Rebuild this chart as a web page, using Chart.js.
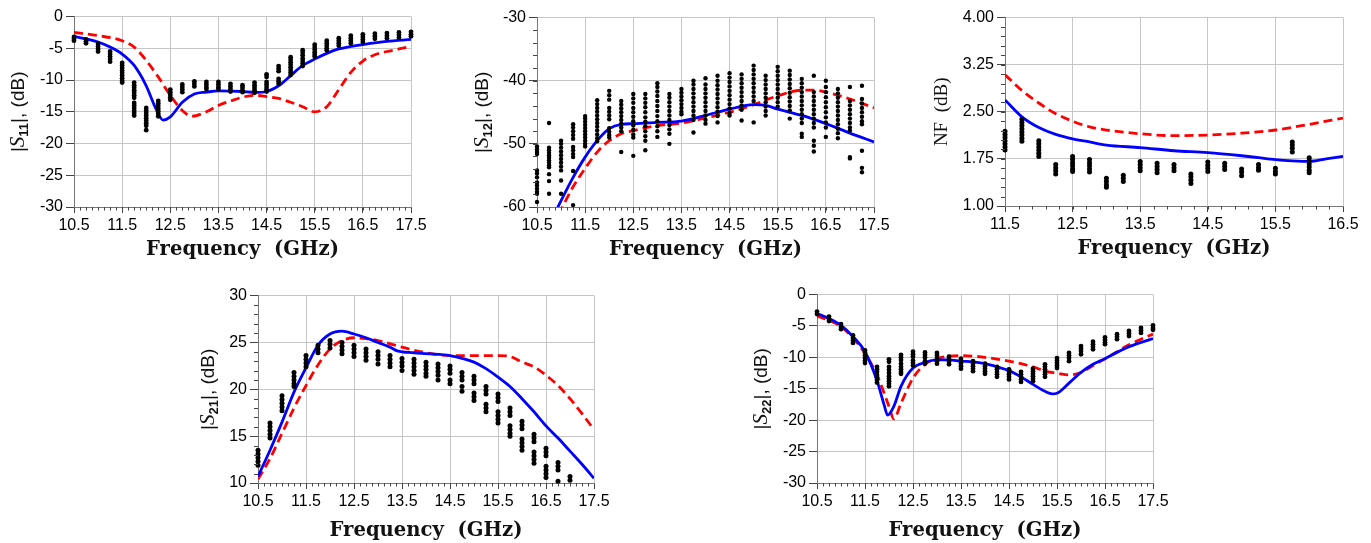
<!DOCTYPE html>
<html>
<head>
<meta charset="utf-8">
<script src="https://cdn.jsdelivr.net/npm/chart.js@4.4.1/dist/chart.umd.min.js"></script>
<style>
  html, body { margin: 0; padding: 0; background: #fff; overflow: hidden; }
  body { width: 1371px; height: 543px; position: relative; }
  canvas { position: absolute; }
</style>
</head>
<body>
<canvas id="s11"></canvas>
<canvas id="s12"></canvas>
<canvas id="nf"></canvas>
<canvas id="s21"></canvas>
<canvas id="s22"></canvas>
<script>
// measured frequency columns (GHz)
const measFreq = [10.5, 10.75, 11, 11.25, 11.5, 11.75, 12, 12.25, 12.5, 12.75, 13, 13.25, 13.5, 13.75,
  14, 14.25, 14.5, 14.75, 15, 15.25, 15.5, 15.75, 16, 16.25, 16.5, 16.75, 17, 17.25, 17.5];
const nfFreq = [11.5, 11.75, 12, 12.25, 12.5, 12.75, 13, 13.25, 13.5, 13.75, 14, 14.25, 14.5, 14.75,
  15, 15.25, 15.5, 15.75, 16];

// tick labels
const freqTicks = [10.5, 11.5, 12.5, 13.5, 14.5, 15.5, 16.5, 17.5];
const nfFreqTicks = [11.5, 12.5, 13.5, 14.5, 15.5, 16.5];
const dbTicks = [-30, -25, -20, -15, -10, -5, 0];
const s12Ticks = [-60, -50, -40, -30];
const nfTicks = [1.00, 1.75, 2.50, 3.25, 4.00];
const s21Ticks = [10, 15, 20, 25, 30];

// |S11|
const s11Meas = [
  [-3.2, -3.5, -3.8],
  [-3.6, -3.9, -4.2],
  [-4.3, -4.7, -5.1, -5.5],
  [-5.5, -5.9, -6.3, -6.7, -7.1],
  [-7.3, -7.7, -8.1, -8.5, -8.9, -9.3, -9.7, -10.1, -10.4],
  [-10.4, -10.8, -11.2, -11.6, -12.0, -12.4, -12.8, -13.6, -14.0, -14.4, -14.8, -15.2, -15.6],
  [-14.4, -14.8, -15.2, -15.6, -16.0, -16.4, -16.8, -17.2, -17.9],
  [-13.3, -13.7, -14.1, -14.5, -14.9, -15.3, -15.7],
  [-11.5, -11.9, -12.3, -12.7, -13.1],
  [-10.7, -11.1, -11.5, -11.9],
  [-10.2, -10.6, -11.0],
  [-10.3, -10.7, -11.1, -11.4],
  [-10.3, -10.7, -11.1, -11.4],
  [-10.6, -11.0, -11.4, -11.8],
  [-10.8, -11.2, -11.6, -11.9],
  [-10.4, -10.8, -11.2, -11.6, -12.0],
  [-9.1, -9.5, -10.3, -10.7, -11.1, -11.5, -11.8],
  [-7.8, -8.2, -8.6, -9.8, -10.2, -10.6],
  [-6.4, -6.8, -7.2, -7.6, -8.0, -8.4, -8.8, -9.2],
  [-5.3, -5.7, -6.1, -6.6, -7.0, -7.4, -7.8],
  [-4.4, -4.8, -5.2, -5.6, -6.0, -6.3],
  [-3.8, -4.2, -4.6, -5.0, -5.3],
  [-3.4, -3.8, -4.2, -4.6],
  [-3.0, -3.4, -3.8, -4.2],
  [-2.8, -3.2, -3.6, -4.0],
  [-2.7, -3.1, -3.5],
  [-2.6, -3.0, -3.4],
  [-2.5, -2.9, -3.3],
  [-2.4, -2.8, -3.1]
];
const s11BlueF = [10.5, 11, 11.25, 11.5, 11.75, 12, 12.2, 12.35, 12.5, 12.75, 13, 13.25, 13.5, 14, 14.25, 14.5,
  14.75, 15, 15.25, 15.5, 15.75, 16, 16.25, 16.5, 17, 17.5];
const s11Blue = [-3.1, -4.0, -4.8, -5.9, -7.7, -10.9, -14.5, -16.3, -15.8, -13.5, -12.2, -11.9, -11.7, -11.8, -11.95, -11.8,
  -10.9, -9.3, -7.7, -6.7, -5.8, -5.1, -4.7, -4.4, -3.9, -3.6];
const s11RedF = [10.5, 11, 11.5, 11.75, 12, 12.25, 12.5, 12.75, 12.95, 13.25, 13.5, 13.75, 14, 14.25, 14.5, 14.75,
  15, 15.25, 15.5, 15.75, 16, 16.25, 16.5, 16.75, 17, 17.25, 17.5];
const s11Red = [-2.5, -3.0, -3.8, -4.8, -6.9, -9.5, -12.4, -14.8, -15.7, -15.0, -14.0, -13.3, -12.7, -12.4, -12.6, -12.9,
  -13.5, -14.2, -15.0, -14.2, -11.5, -8.8, -7.0, -6.0, -5.5, -5.1, -4.7];

// |S12|
const s12Meas = [
  [-50.4, -50.9, -51.3, -51.6, -54.2, -54.7, -55.3, -56.1, -56.6, -57.1, -57.6, -57.9, -59.2],
  [-46.7, -50.6, -51.0, -51.4, -51.8, -52.2, -52.6, -53.0, -53.4, -53.7, -54.8, -55.9, -57.9],
  [-49.5, -50.0, -50.6, -51.2, -51.8, -52.4, -53.0, -53.6, -54.2, -55.8, -57.9],
  [-46.9, -47.4, -48.0, -48.6, -49.2, -50.5, -51.0, -51.6, -52.1, -54.3, -59.7],
  [-45.6, -46.0, -46.5, -47.0, -47.5, -48.0, -48.5, -49.0, -49.5, -50.0, -50.4],
  [-43.1, -43.7, -44.3, -44.9, -45.5, -46.1, -46.7, -47.3, -47.9, -48.5, -49.1, -49.6],
  [-41.6, -42.3, -43.0, -44.3, -44.9, -45.5, -46.1, -47.5, -48.1, -48.6, -49.0],
  [-43.2, -43.8, -44.4, -45.0, -45.6, -46.2, -46.8, -47.4, -48.0, -51.3],
  [-42.1, -42.8, -43.5, -44.3, -45.0, -45.7, -46.4, -47.1, -47.8, -48.5, -49.0, -51.9],
  [-42.1, -42.8, -43.5, -44.2, -45.0, -45.8, -46.5, -47.2, -48.0, -48.8, -49.5, -51.0],
  [-40.4, -41.0, -41.7, -42.4, -43.2, -44.0, -44.8, -45.6, -46.4, -47.2, -48.0, -48.9],
  [-42.1, -42.7, -43.4, -44.1, -44.8, -45.5, -46.2, -47.0, -47.7, -48.4, -50.0],
  [-41.3, -41.9, -42.5, -43.1, -43.7, -44.3, -44.9, -45.3],
  [-40.0, -40.6, -41.3, -42.0, -42.7, -43.4, -44.1, -44.8, -45.5, -46.2, -48.2],
  [-39.6, -40.6, -41.3, -42.0, -42.7, -43.4, -44.1, -44.8, -45.5, -46.2, -46.8],
  [-39.2, -40.0, -40.7, -41.4, -42.1, -42.8, -43.5, -44.2, -44.9, -45.6, -46.6],
  [-38.8, -39.5, -40.2, -40.9, -41.6, -42.3, -43.0, -43.7, -44.4, -45.1, -45.5],
  [-39.0, -39.7, -40.4, -41.1, -41.8, -42.5, -43.2, -43.9, -44.6, -46.3],
  [-37.6, -38.3, -39.0, -39.7, -40.4, -41.1, -41.8, -42.5, -43.2, -46.6],
  [-39.2, -39.9, -40.6, -41.3, -42.0, -42.7, -43.4, -44.1, -44.8, -45.5],
  [-37.8, -38.5, -39.2, -39.9, -40.6, -41.3, -42.0, -42.7, -43.4, -44.1],
  [-38.4, -39.1, -39.8, -40.5, -41.2, -41.9, -42.6, -43.3, -44.0, -44.7, -46.0],
  [-39.7, -40.4, -41.1, -41.8, -42.5, -43.2, -43.9, -44.6, -45.3, -46.0, -46.7, -48.4, -48.9],
  [-39.2, -41.8, -42.5, -43.2, -43.9, -44.6, -45.3, -46.0, -46.7, -47.4, -49.5, -50.3, -51.2],
  [-40.0, -41.0, -41.8, -42.6, -43.4, -44.2, -45.0, -45.8, -46.6, -47.4, -48.9],
  [-41.3, -42.0, -42.7, -43.4, -44.1, -44.8, -45.5, -46.2, -46.9, -47.6, -48.3, -49.1],
  [-41.0, -43.2, -43.9, -44.6, -45.3, -46.0, -46.7, -47.4, -47.9, -52.1, -52.3],
  [-40.8, -42.9, -43.6, -44.3, -45.0, -45.7, -46.4, -46.9, -51.1, -53.8, -54.5]
];
const s12BlueF = [10.85, 11, 11.25, 11.5, 11.75, 12, 12.25, 12.5, 13, 13.5, 14, 14.5, 15, 15.25, 15.5, 16, 16.5, 17, 17.5];
const s12Blue = [-61.3, -59.0, -55.3, -52.1, -49.5, -47.6, -46.9, -46.8, -46.6, -46.4, -45.5, -44.5, -43.8, -43.9, -44.5,
  -45.5, -46.8, -48.3, -49.7];
const s12RedF = [10.95, 11.25, 11.5, 11.75, 12, 12.25, 12.5, 13, 13.5, 14, 14.5, 15, 15.5, 16, 16.25, 16.5, 17, 17.5];
const s12Red = [-61.2, -56.8, -53.9, -51.3, -49.5, -48.4, -47.9, -47.1, -46.7, -45.9, -45.0, -43.8, -42.4, -41.5, -41.5,
  -41.8, -42.9, -44.3];

// NF
const nfMeas = [
  [2.19, 2.14, 2.09, 2.04, 1.99, 1.94, 1.89],
  [2.38, 2.33, 2.28, 2.23, 2.18, 2.13, 2.08, 2.03],
  [2.04, 1.99, 1.94, 1.89, 1.84, 1.79],
  [1.66, 1.61, 1.56, 1.51],
  [1.79, 1.74, 1.69, 1.64, 1.59, 1.55],
  [1.74, 1.69, 1.64, 1.59, 1.54],
  [1.44, 1.39, 1.34, 1.30],
  [1.49, 1.44, 1.39],
  [1.71, 1.66, 1.61, 1.56],
  [1.68, 1.63, 1.58, 1.53],
  [1.66, 1.61, 1.56],
  [1.51, 1.46, 1.41, 1.36],
  [1.70, 1.65, 1.60, 1.55],
  [1.68, 1.63, 1.58],
  [1.59, 1.54, 1.48],
  [1.66, 1.61, 1.57],
  [1.60, 1.55, 1.51],
  [2.02, 1.97, 1.92, 1.86],
  [1.77, 1.72, 1.67, 1.62, 1.57, 1.53]
];
const nfBlueF = [11.5, 11.75, 12, 12.25, 12.5, 12.75, 13, 13.5, 14, 14.5, 15, 15.25, 15.5, 15.75, 16, 16.25, 16.5];
const nfBlue = [2.69, 2.42, 2.25, 2.14, 2.07, 2.02, 1.97, 1.93, 1.88, 1.85, 1.80, 1.77, 1.74, 1.72, 1.71, 1.75, 1.79];
const nfRedF = [11.5, 11.75, 12, 12.25, 12.5, 12.75, 13, 13.5, 14, 14.5, 15, 15.5, 16, 16.5];
const nfRed = [3.09, 2.84, 2.64, 2.47, 2.35, 2.26, 2.21, 2.15, 2.12, 2.13, 2.16, 2.21, 2.30, 2.40];

// |S21|
const s21Meas = [
  [13.5, 13.1, 12.7, 12.3, 11.9],
  [16.4, 16.0, 15.6, 15.2, 14.8],
  [19.3, 18.9, 18.5, 18.1, 17.7],
  [21.8, 21.4, 21.0, 20.6, 20.3],
  [23.6, 23.2, 22.8, 22.4],
  [24.7, 24.3, 23.9],
  [25.2, 24.8, 24.4],
  [25.0, 24.6, 24.2, 23.8],
  [24.7, 24.3, 23.9, 23.5],
  [24.3, 23.9, 23.5, 23.1],
  [24.0, 23.6, 23.2, 22.7],
  [23.6, 23.2, 22.8, 22.4],
  [23.3, 22.9, 22.5, 22.0],
  [23.2, 22.8, 22.4, 22.0, 21.6],
  [22.9, 22.5, 22.1, 21.7, 21.4],
  [22.7, 22.3, 21.9, 21.5, 21.0],
  [22.5, 22.1, 21.7, 21.0, 20.6],
  [21.8, 21.4, 21.0, 20.3, 19.8],
  [21.4, 21.0, 20.6, 19.6, 19.2, 18.8],
  [20.3, 19.9, 19.5, 18.4, 18.0, 17.6],
  [19.5, 19.1, 18.7, 17.6, 17.2, 16.8, 16.4],
  [18.0, 17.6, 17.2, 16.1, 15.7, 15.3, 15.0],
  [16.6, 16.2, 15.8, 14.7, 14.3, 13.9, 13.5],
  [15.2, 14.8, 14.4, 13.3, 12.9, 12.5, 12.1],
  [13.7, 13.3, 12.9, 11.8, 11.4, 11.0, 10.6],
  [12.2, 11.8, 11.4, 10.2],
  [10.7, 10.3]
];
const s21BlueF = [10.5, 10.75, 11, 11.25, 11.5, 11.75, 12, 12.25, 12.5, 12.75, 13, 13.25, 13.4, 13.75, 14, 14.5, 14.75,
  15, 15.25, 15.5, 15.75, 16, 16.25, 16.5, 16.75, 17, 17.25, 17.5];
const s21Blue = [10.7, 13.5, 16.5, 19.7, 22.3, 24.7, 25.9, 26.2, 25.9, 25.5, 25.0, 24.5, 24.1, 23.9, 23.8, 23.6, 23.3,
  22.9, 22.2, 21.3, 20.3, 19.0, 17.6, 16.1, 14.8, 13.4, 12.0, 10.5];
const s21RedF = [10.5, 10.75, 11, 11.25, 11.5, 11.75, 12, 12.25, 12.5, 12.75, 13, 13.5, 14, 14.5, 15, 15.5, 15.75, 16,
  16.25, 16.5, 16.75, 17, 17.25, 17.5];
const s21Red = [10.4, 12.6, 15.3, 18.0, 20.4, 22.6, 24.3, 25.2, 25.5, 25.4, 25.2, 24.5, 23.9, 23.6, 23.6, 23.6, 23.5, 22.9,
  22.4, 21.5, 20.4, 19.0, 17.4, 15.7];

// |S22|
const s22Meas = [
  [-2.7, -3.1],
  [-3.5, -3.9, -4.2],
  [-4.7, -5.1, -5.5],
  [-6.5, -6.9, -7.3, -7.7],
  [-8.9, -9.3, -9.7, -10.1, -10.5, -10.9],
  [-11.5, -11.9, -12.3, -12.8, -13.2, -13.6, -14.0],
  [-10.3, -10.7, -11.5, -12.0, -12.5, -13.0, -13.4, -13.8, -14.2, -14.6],
  [-9.6, -10.0, -10.4, -11.0, -11.5, -11.9, -12.3, -12.6],
  [-9.1, -9.5, -9.9, -10.5, -10.9, -11.3],
  [-9.2, -9.6, -10.0, -10.6, -11.0],
  [-9.3, -9.7, -10.1, -10.6, -11.0],
  [-9.9, -10.3, -10.7, -11.1],
  [-10.2, -10.6, -11.0, -11.4, -11.8],
  [-10.6, -11.0, -11.4, -11.8, -12.2],
  [-11.0, -11.4, -11.8, -12.2, -12.6],
  [-11.5, -11.9, -12.3, -12.7, -13.1],
  [-11.9, -12.3, -12.7, -13.1, -13.5],
  [-12.3, -12.7, -13.1, -13.5, -13.9],
  [-11.8, -12.2, -12.6, -13.0, -13.4, -13.8],
  [-11.1, -11.5, -11.9, -12.3, -12.7, -13.1],
  [-10.1, -10.5, -10.9, -11.3, -11.7],
  [-9.3, -9.7, -10.1, -10.6],
  [-8.2, -8.6, -9.0, -9.5],
  [-7.5, -7.9, -8.3, -8.7],
  [-6.8, -7.2, -7.6, -7.9],
  [-6.3, -6.7, -7.1],
  [-5.8, -6.2, -6.6],
  [-5.3, -5.7, -6.1],
  [-4.9, -5.3, -5.6]
];
const s22BlueF = [10.5, 10.75, 11, 11.25, 11.5, 11.75, 11.9, 11.97, 12.1, 12.25, 12.5, 12.75, 13, 13.25, 13.5, 13.75, 14,
  14.25, 14.5, 14.75, 15, 15.25, 15.4, 15.5, 15.75, 16, 16.25, 16.5, 16.75, 17, 17.25, 17.5];
const s22Blue = [-3.0, -3.8, -4.9, -6.7, -9.1, -13.7, -17.6, -19.2, -17.8, -14.6, -11.7, -10.8, -10.4, -10.4, -10.6, -10.7,
  -11.0, -11.5, -12.1, -13.1, -14.3, -15.4, -15.8, -15.7, -14.1, -12.4, -11.1, -10.2, -9.2, -8.3, -7.6, -7.0];
const s22RedF = [10.5, 10.75, 11, 11.25, 11.5, 11.75, 12, 12.1, 12.25, 12.5, 12.75, 13, 13.25, 13.5, 14, 14.5, 14.75, 15,
  15.25, 15.5, 15.75, 16, 16.25, 16.5, 16.75, 17, 17.25, 17.5];
const s22Red = [-3.4, -4.1, -5.1, -6.9, -9.4, -12.8, -17.8, -19.8, -17.3, -13.3, -11.1, -10.2, -9.8, -9.7, -10.0, -10.6,
  -11.0, -11.5, -12.2, -12.5, -12.8, -12.4, -11.3, -10.2, -9.1, -8.0, -7.1, -6.3];

// helpers
function measPoints(freqs, cols) {
  const pts = [];
  cols.forEach((col, i) => col.forEach(v => pts.push({ x: freqs[i], y: v })));
  return pts;
}
function linePoints(xs, ys) {
  return xs.map((x, i) => ({ x: x, y: ys[i] }));
}

const tickFont = { family: '"Liberation Sans", Arial, sans-serif', size: 16 };

// minor ticks + axis titles
const axisDeco = {
  id: 'axisDeco',
  afterDraw(chart, args, o) {
    const { ctx, chartArea: a, scales: { x, y } } = chart;
    ctx.save();
    ctx.strokeStyle = '#444';
    ctx.lineWidth = 1;
    ctx.beginPath();
    if (o.xMinor) {
      const n = Math.round((x.max - x.min) / o.xMinor);
      for (let k = 1; k < n; k++) {
        const px = Math.round(x.getPixelForValue(x.min + k * o.xMinor)) + 0.5;
        ctx.moveTo(px, a.bottom);
        ctx.lineTo(px, a.bottom + 3.5);
      }
    }
    if (o.yMinor) {
      const n = Math.round((y.max - y.min) / o.yMinor);
      for (let k = 1; k < n; k++) {
        const py = Math.round(y.getPixelForValue(y.min + k * o.yMinor)) + 0.5;
        ctx.moveTo(a.left, py);
        ctx.lineTo(a.left - 4, py);
      }
    }
    ctx.stroke();

    // x title
    ctx.fillStyle = '#111';
    ctx.font = 'bold 21px "DejaVu Serif", serif';
    const t = 'Frequency  (GHz)';
    const w = ctx.measureText(t).width;
    ctx.save();
    ctx.translate((a.left + a.right) / 2, a.bottom + o.xTitleDy);
    ctx.scale(193 / w, 1);
    ctx.textAlign = 'center';
    ctx.textBaseline = 'alphabetic';
    ctx.fillText(t, 0, 0);
    ctx.restore();

    // y title (rotated, built from parts)
    ctx.translate(a.left - o.yTitleDx, (a.top + a.bottom) / 2);
    ctx.rotate(-Math.PI / 2);
    ctx.textAlign = 'left';
    ctx.textBaseline = 'alphabetic';
    let total = 0;
    o.yTitle.forEach(p => { ctx.font = p.f; total += ctx.measureText(p.t).width; });
    let cx = -total / 2;
    o.yTitle.forEach(p => {
      ctx.font = p.f;
      ctx.fillText(p.t, cx, 7 + (p.dy || 0));
      cx += ctx.measureText(p.t).width;
    });
    ctx.restore();
  }
};

function sTitle(sub) {
  return [
    { t: '|', f: '19px "Liberation Sans"' },
    { t: 'S', f: 'italic 21px "Liberation Serif"' },
    { t: sub, f: 'bold 13px "Liberation Sans"', dy: 4 },
    { t: '|, (dB)', f: '19px "Liberation Sans"' }
  ];
}

function makeChart(id, box, spec) {
  const cv = document.getElementById(id);
  const padTop = 12, padRight = 26, yw = 80, xh = 66;
  cv.width = box.r - box.l + yw + padRight;
  cv.height = box.b - box.t + padTop + xh;
  cv.style.left = (box.l - yw) + 'px';
  cv.style.top = (box.t - padTop) + 'px';

  return new Chart(cv, {
    type: 'scatter',
    data: {
      datasets: [{
        data: measPoints(spec.measF, spec.meas),
        pointRadius: spec.dotR || 2.4,
        pointBackgroundColor: '#000',
        pointBorderWidth: 0,
        clip: 5,
        order: 0
      }, {
        data: linePoints(spec.blueF, spec.blue),
        showLine: true,
        borderColor: '#0000ff',
        borderWidth: 2.8,
        pointRadius: 0,
        cubicInterpolationMode: 'monotone',
        order: 1
      }, {
        data: linePoints(spec.redF, spec.red),
        showLine: true,
        borderColor: '#ff0000',
        borderWidth: 2.8,
        borderDash: [9, 5],
        pointRadius: 0,
        cubicInterpolationMode: 'monotone',
        order: 2
      }]
    },
    options: {
      responsive: false,
      animation: false,
      devicePixelRatio: 1,
      layout: { padding: { top: padTop, right: padRight, left: 0, bottom: 0 } },
      plugins: {
        legend: { display: false },
        tooltip: { enabled: false },
        axisDeco: {
          xMinor: spec.xMinor, yMinor: spec.yMinor,
          xTitleDy: spec.xTitleDy, yTitleDx: spec.yTitleDx, yTitle: spec.yTitle
        }
      },
      scales: {
        x: {
          type: 'linear',
          min: spec.xTicks[0],
          max: spec.xTicks[spec.xTicks.length - 1],
          afterBuildTicks: s => { s.ticks = spec.xTicks.map(v => ({ value: v })); },
          afterFit: s => { s.height = xh; },
          ticks: { autoSkip: false, maxRotation: 0, font: tickFont, color: '#000', padding: 3,
            callback: v => v.toFixed(1) },
          grid: { color: '#c6c6c6', tickColor: '#444', tickLength: 6 },
          border: { color: '#777' }
        },
        y: {
          type: 'linear',
          min: spec.yTicks[0],
          max: spec.yTicks[spec.yTicks.length - 1],
          afterBuildTicks: s => { s.ticks = spec.yTicks.map(v => ({ value: v })); },
          afterFit: s => { s.width = yw; },
          ticks: { autoSkip: false, font: tickFont, color: '#000', padding: 3,
            callback: spec.yFmt || (v => String(v)) },
          grid: { color: '#c6c6c6', tickColor: '#444', tickLength: 8 },
          border: { color: '#777' }
        }
      }
    },
    plugins: [axisDeco]
  });
}

makeChart('s11', { l: 74, r: 411, t: 16, b: 207 }, {
  measF: measFreq, meas: s11Meas, blueF: s11BlueF, blue: s11Blue, redF: s11RedF, red: s11Red,
  xTicks: freqTicks, yTicks: dbTicks, xMinor: 0.125, yMinor: 0,
  xTitleDy: 48, yTitleDx: 57, yTitle: sTitle('11')
});
makeChart('s12', { l: 537, r: 874, t: 17, b: 207 }, {
  measF: measFreq, meas: s12Meas, blueF: s12BlueF, blue: s12Blue, redF: s12RedF, red: s12Red,
  xTicks: freqTicks, yTicks: s12Ticks, xMinor: 0.125, yMinor: 2, dotR: 2.2,
  xTitleDy: 48, yTitleDx: 56, yTitle: sTitle('12')
});
makeChart('nf', { l: 1005, r: 1343, t: 17, b: 206 }, {
  measF: nfFreq, meas: nfMeas, blueF: nfBlueF, blue: nfBlue, redF: nfRedF, red: nfRed,
  xTicks: nfFreqTicks, yTicks: nfTicks, xMinor: 0.2, yMinor: 0.15, dotR: 2.5,
  yFmt: v => v.toFixed(2),
  xTitleDy: 48, yTitleDx: 65, yTitle: [{ t: 'NF  (dB)', f: '19px "Liberation Serif"' }]
});
makeChart('s21', { l: 258, r: 594, t: 295, b: 483 }, {
  measF: measFreq, meas: s21Meas, blueF: s21BlueF, blue: s21Blue, redF: s21RedF, red: s21Red,
  xTicks: freqTicks, yTicks: s21Ticks, xMinor: 0.125, yMinor: 1, dotR: 2.5,
  xTitleDy: 53, yTitleDx: 51, yTitle: sTitle('21')
});
makeChart('s22', { l: 817, r: 1153, t: 294, b: 483 }, {
  measF: measFreq, meas: s22Meas, blueF: s22BlueF, blue: s22Blue, redF: s22RedF, red: s22Red,
  xTicks: freqTicks, yTicks: dbTicks, xMinor: 0.125, yMinor: 0,
  xTitleDy: 53, yTitleDx: 57, yTitle: sTitle('22')
});
</script>
</body>
</html>
